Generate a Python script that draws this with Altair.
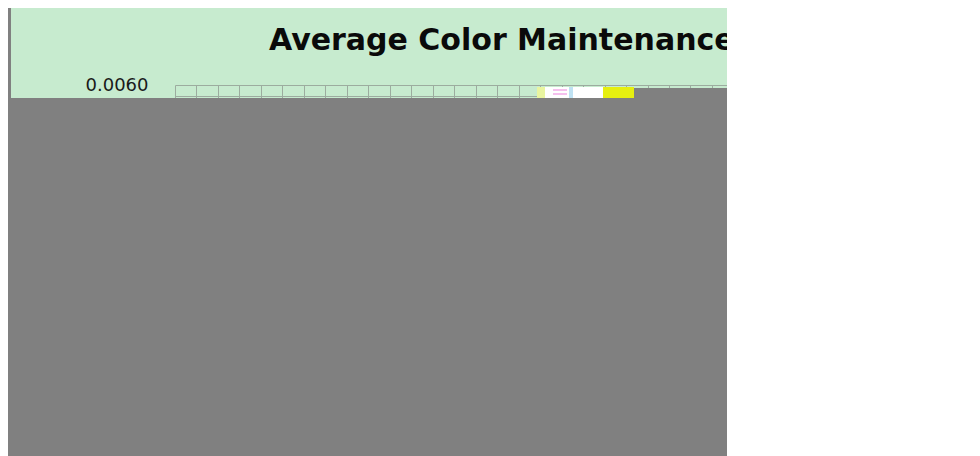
import altair as alt
import pandas as pd

# ---- content ----
chart_title = ["Average Color Maintenance"]
y_major_ticks = [0.0, 0.001, 0.002, 0.003, 0.004, 0.005, 0.006]
y_minor_grid = [round(0.0002 * i, 4) for i in range(31)]
x_grid = list(range(26))
visible_point_x = [0]
visible_point_y = [0.006]

GREEN = "#c7ebcf"
GRAY = "#808080"
GRID = "#9cac9f"

W, H = 552, 330  # plot area

base = alt.Chart(pd.DataFrame({"x": visible_point_x, "y": visible_point_y})).mark_point(opacity=0).encode(
    x=alt.X("x:Q",
            scale=alt.Scale(domain=[0, 25.7], nice=False, zero=False),
            axis=alt.Axis(values=x_grid, grid=True, labels=False, ticks=False,
                          domain=False, title=None, gridColor=GRID, gridWidth=1)),
    y=alt.Y("y:Q",
            scale=alt.Scale(domain=[0, 0.006], nice=False),
            axis=alt.Axis(values=y_minor_grid, format=".4f",
                          labelExpr="abs(datum.value*1000 - round(datum.value*1000)) < 0.000001 ? datum.label : ''",
                          labelOverlap=False, grid=True, ticks=False, domain=False,
                          title=None, gridColor=GRID, gridWidth=1,
                          labelFont="DejaVu Sans", labelFontSize=18, labelColor="#1a1a1a",
                          labelPadding=27)),
)

title_layer = alt.Chart(pd.DataFrame({"t": chart_title})).mark_text(
    font="DejaVu Sans", fontSize=30, fontWeight="bold", color="#0a0a0a",
    align="left", baseline="alphabetic",
).encode(text="t:N", x=alt.value(94), y=alt.value(-35))

one = alt.Data(values=[{}])

def patch(x, x2, y, y2, color):
    return alt.Chart(one).mark_rect(color=color, opacity=1).encode(
        x=alt.value(x), x2=alt.value(x2), y=alt.value(y), y2=alt.value(y2))

# redaction / cover regions (pixel offsets relative to plot origin)
cover_bottom = patch(-167, W, 13, 371, GRAY)
cover_right = patch(459, W, 3, 13, GRAY)
cover_left = patch(-167, -164, -77, 371, GRAY)
glitch_white = patch(362, 428, 2, 13, "#ffffff")
glitch_pale = patch(362, 370, 2, 13, "#e9f5a0")
glitch_pink1 = patch(378, 392, 4, 6, "#f6c0ee")
glitch_pink2 = patch(378, 392, 8, 10, "#f6c0ee")
glitch_blue = patch(394, 398, 2, 13, "#bfe2f3")
glitch_yellow = patch(428, 459, 2, 13, "#e6ef10")

chart = alt.layer(
    base, title_layer, cover_bottom, cover_right, cover_left,
    glitch_white, glitch_pale, glitch_pink1, glitch_pink2, glitch_blue, glitch_yellow,
).properties(
    width=W, height=H,
    padding={"left": 167, "top": 77, "right": 0, "bottom": 41},
    autosize=alt.AutoSizeParams(type="none"),
    background=GREEN,
).configure_view(strokeWidth=0)

chart.save("out.html", embed_options={"renderer": "svg", "actions": False})
